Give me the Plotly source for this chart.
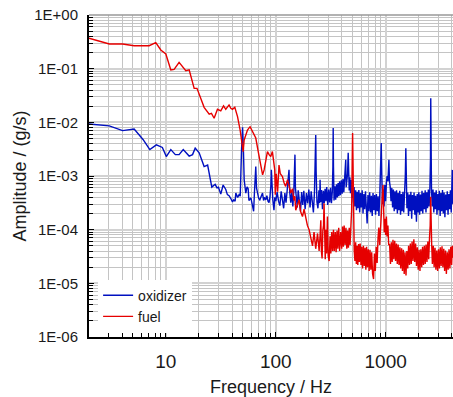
import math
import plotly.graph_objects as go

# ---------------- data ----------------
f_oxidizer = [2, 3.06, 4.04, 5.15, 6.2, 7.15, 8.2, 9.3, 10.1, 11.1, 12.2, 13.2, 14.4, 15.3, 16.3, 17.5, 18.5,
              20.1, 21.2, 22.3, 24.0, 25.2, 26.2, 28.1, 29.2, 30.1, 31.6, 33.2, 35.1, 36.3, 37.6, 39.0, 40.4,
              41.5, 42.7, 43.3, 45, 46.4, 47.5, 48.8, 49.9, 50.8, 51.6, 53.4, 54.8, 56.1, 57, 59.4, 61, 62.9,
              64, 65.8, 66.8, 68.4, 70, 71.6, 73.2, 75.8, 77.5, 79, 81.2, 83, 85, 86.8, 88.5, 90.2, 91.2, 92.5,
              94, 96.3, 98, 100, 103, 106, 109, 112, 115, 118, 121, 124, 127, 130, 132, 134, 137, 140, 143, 146,
              148, 149.5, 151, 154, 157, 160, 164, 168, 172, 176, 180, 185, 190, 195, 200, 205, 210, 215, 220,
              225, 229, 231, 233, 237, 242, 247, 251, 253, 256, 261, 266, 271, 276, 281, 286, 291, 297, 303,
              309, 315, 321, 327, 331, 333, 335, 339, 345, 351, 357, 363, 369, 375, 381, 388, 395, 402, 409,
              416, 423, 430, 433, 437, 444, 450, 456, 460, 466, 472, 478, 485, 492, 500, 508, 516, 524, 533,
              542, 551, 560, 570, 580, 590, 600, 611, 622, 633, 644, 655, 667, 678, 690, 702, 715, 728, 741,
              754, 767, 781, 795, 809, 823, 838, 853, 868, 884, 900, 911, 922, 935, 950, 966, 982, 998, 1015,
              1030, 1048, 1060, 1070, 1082, 1100, 1118, 1137, 1156, 1175, 1195, 1215, 1235, 1256, 1277, 1298,
              1320, 1342, 1365, 1388, 1411, 1435, 1459, 1483, 1508, 1525, 1540, 1560, 1586, 1613, 1640, 1667,
              1695, 1724, 1752, 1782, 1812, 1842, 1873, 1905, 1936, 1969, 2002, 2035, 2070, 2104, 2140, 2175,
              2212, 2249, 2287, 2325, 2364, 2403, 2443, 2484, 2525, 2555, 2570, 2585, 2610, 2650, 2695, 2740,
              2786, 2832, 2880, 2928, 2977, 3027, 3077, 3129, 3181, 3234, 3288, 3343, 3399, 3456, 3513, 3572,
              3632, 3692, 3754, 3817, 3880, 3945, 3990, 4020, 4036, 4060, 4096]
amp_oxidizer = [9.3e-3, 8.6e-3, 7.0e-3, 7.5e-3, 4.8e-3, 3.1e-3, 3.8e-3, 3.4e-3, 2.3e-3, 3.1e-3, 2.5e-3, 2.5e-3,
                3.1e-3, 2.7e-3, 2.35e-3, 2.5e-3, 3.3e-3, 2.7e-3, 2.0e-3, 1.5e-3, 1.6e-3, 9e-4, 6.2e-4, 7.0e-4,
                6.0e-4, 6.2e-4, 4.6e-4, 6.8e-4, 5.6e-4, 4.5e-4, 4.3e-4, 3.8e-4, 3.3e-4, 3.6e-4, 3.4e-4, 4.8e-4,
                4.0e-4, 4.5e-4, 4.2e-4, 3.0e-3, 8.1e-3, 3.0e-3, 8.5e-4, 4.8e-4, 6.3e-4, 5.8e-4, 3.5e-4, 3.9e-4,
                3.0e-4, 2.2e-4, 5e-4, 1.5e-3, 6e-4, 4.5e-4, 3.8e-4, 3.6e-4, 4.2e-4, 4.8e-4, 3.5e-4, 4.0e-4,
                3.6e-4, 4.3e-4, 3.4e-4, 3.2e-4, 4.0e-4, 6.5e-4, 1.3e-3, 5e-4, 3.6e-4, 2.3e-4, 4.0e-4, 3.4e-4,
                5.0e-4, 3.4e-4, 2.8e-4, 5.2e-4, 3.3e-4, 2.5e-4, 4.8e-4, 3.2e-4, 5.4e-4, 8e-4, 1.3e-3, 5e-4,
                3.2e-4, 5.0e-4, 2.7e-4, 5.3e-4, 1.0e-3, 2.5e-3, 6e-4, 3.4e-4, 2.6e-4, 5.4e-4, 3.2e-4, 2.2e-4,
                5.0e-4, 2.9e-4, 5.3e-4, 2.4e-4, 4.8e-4, 3.1e-4, 5.6e-4, 2.6e-4, 5.2e-4, 2.9e-4, 2.1e-4, 5.0e-4,
                1.5e-3, 5.8e-3, 1.2e-3, 3.3e-4, 2.5e-4, 5.4e-4, 3.1e-4, 8.5e-4, 3.3e-4, 5.5e-4, 2.4e-4, 5.3e-4,
                3.1e-4, 5.8e-4, 3.4e-4, 6.2e-4, 2.9e-4, 5.6e-4, 3.2e-4, 6.0e-4, 3.1e-4, 5.1e-4, 1.5e-3, 7.8e-3,
                1.5e-3, 3.5e-4, 6.4e-4, 3.6e-4, 7.0e-4, 4.0e-4, 7.4e-4, 4.2e-4, 8.0e-4, 4.4e-4, 8.3e-4, 4.7e-4,
                8.8e-4, 5.0e-4, 9.4e-4, 1.1e-3, 2.0e-3, 6.2e-4, 1.0e-3, 1.1e-3, 2.7e-3, 7.2e-4, 5.4e-4, 9.5e-4,
                4.8e-4, 8.4e-4, 3.9e-4, 7.4e-4, 3.2e-4, 6.2e-4, 2.7e-4, 5.4e-4, 2.3e-4, 5.1e-4, 2.5e-4, 5.5e-4,
                2.1e-4, 4.8e-4, 2.6e-4, 5.4e-4, 2.0e-4, 4.6e-4, 2.4e-4, 5.2e-4, 2.0e-4, 1.3e-4, 4.4e-4, 2.2e-4,
                5.0e-4, 2.1e-4, 4.3e-4, 1.8e-4, 4.8e-4, 2.3e-4, 4.4e-4, 1.9e-4, 4.6e-4, 2.2e-4, 4.2e-4, 1.8e-4,
                4.5e-4, 1.2e-3, 4.1e-3, 1.0e-3, 3.0e-4, 5.6e-4, 2.7e-4, 6.8e-4, 3.4e-4, 7.5e-4, 1.0e-3, 8e-4,
                1.2e-3, 2.0e-3, 8e-4, 6.2e-4, 3.4e-4, 6.0e-4, 2.6e-4, 5.6e-4, 2.2e-4, 5.2e-4, 2.4e-4, 5.4e-4,
                2.0e-4, 4.8e-4, 2.3e-4, 5.3e-4, 1.9e-4, 4.6e-4, 2.2e-4, 5.1e-4, 2.1e-4, 4.4e-4, 1.0e-3, 3.3e-3,
                8e-4, 2.5e-4, 4.9e-4, 1.8e-4, 4.5e-4, 2.2e-4, 5.1e-4, 1.6e-4, 4.4e-4, 2.3e-4, 4.9e-4, 1.9e-4,
                4.3e-4, 1.4e-4, 4.6e-4, 2.1e-4, 5.0e-4, 1.9e-4, 4.5e-4, 2.2e-4, 5.3e-4, 2.0e-4, 4.8e-4, 2.4e-4,
                5.4e-4, 2.1e-4, 5.0e-4, 2.5e-4, 5.6e-4, 2.7e-4, 6e-4, 2.0e-3, 2.8e-2, 2.0e-3, 5.8e-4, 2.7e-4,
                5.6e-4, 2.1e-4, 4.9e-4, 2.4e-4, 5.4e-4, 1.9e-4, 4.6e-4, 2.3e-4, 5.3e-4, 1.8e-4, 4.8e-4, 2.2e-4,
                5.5e-4, 2.0e-4, 4.9e-4, 1.7e-4, 4.5e-4, 2.3e-4, 5.2e-4, 1.9e-4, 4.6e-4, 2.4e-4, 5.4e-4, 2.1e-4,
                4.2e-4, 1.3e-3, 1.3e-3, 3.5e-4, 3.0e-4]

f_fuel = [2, 3.06, 4.04, 5.15, 7.05, 8.1, 9.0, 10, 11.1, 11.9, 13.2, 14.2, 15.2, 16.3, 18.1, 19.2, 20.1, 21.2,
          22.3, 24.8, 26, 27.5, 29.5, 31.6, 33.5, 35.1, 37.6, 39, 40.4, 42.4, 44.9, 47.4, 49, 50.5, 51.6, 55.3,
          58.4, 61.3, 65.8, 69.6, 73.2, 75.9, 78.4, 80.2, 84, 87, 90, 93.2, 95.5, 97.9, 99, 101, 104, 107, 110,
          115, 119, 123, 128, 132, 135, 137, 142, 146, 149, 152, 157, 163, 168, 175, 181, 188, 194, 201, 208,
          216, 223, 231, 240, 248, 253, 257, 260, 264, 268, 272, 275, 278, 282, 286, 290, 295, 300, 306, 312,
          317, 323, 329, 335, 341, 348, 354, 361, 367, 374, 381, 390, 398, 405, 412, 419, 427, 435, 443, 450,
          458, 466, 474, 482, 490, 496, 500, 504, 510, 517, 525, 533, 541, 549, 558, 567, 576, 586, 596, 606,
          616, 627, 638, 649, 660, 671, 683, 695, 707, 720, 733, 746, 760, 776, 790, 805, 820, 836, 852, 867,
          882, 898, 914, 930, 946, 956, 970, 985, 1000, 1015, 1030, 1048, 1065, 1085, 1105, 1125, 1145, 1165,
          1186, 1208, 1230, 1252, 1275, 1298, 1322, 1346, 1370, 1396, 1421, 1447, 1474, 1501, 1530, 1558,
          1587, 1616, 1646, 1676, 1707, 1739, 1771, 1804, 1837, 1871, 1906, 1941, 1977, 2013, 2050, 2088,
          2127, 2166, 2206, 2247, 2288, 2331, 2374, 2418, 2462, 2508, 2540, 2565, 2590, 2620, 2660, 2710,
          2760, 2810, 2862, 2915, 2969, 3024, 3080, 3137, 3195, 3254, 3314, 3375, 3438, 3501, 3566, 3632,
          3700, 3768, 3838, 3909, 3981, 4036, 4096]
amp_fuel = [0.37, 0.288, 0.288, 0.268, 0.268, 0.305, 0.223, 0.188, 0.095, 0.097, 0.131, 0.11, 0.092, 0.095,
            0.043, 0.043, 0.034, 0.025, 0.019, 0.0142, 0.0147, 0.0119, 0.0175, 0.0164, 0.0202, 0.0175, 0.0211,
            0.0183, 0.0175, 0.0191, 0.0128, 0.0072, 0.0042, 0.00285, 0.0047, 0.0072, 0.0083, 0.0067, 0.0051,
            0.0027, 0.0015, 0.00105, 0.0013, 0.0017, 0.00285, 0.0025, 0.0023, 0.00285, 0.0018, 0.0013, 4.5e-4,
            1.1e-3, 5.1e-4, 1.6e-3, 1.1e-3, 9.8e-4, 7.5e-4, 6.4e-4, 8.5e-4, 7.0e-4, 5.5e-4, 4.8e-4, 5.8e-4,
            3.5e-4, 4.2e-4, 2.3e-4, 3.0e-4, 3.6e-4, 2.2e-4, 1.75e-4, 2.4e-4, 1.5e-4, 1.2e-4, 1.0e-4, 7.5e-5,
            5.0e-5, 9.0e-5, 4.4e-5, 8.5e-5, 4.0e-5, 7.8e-5, 1.5e-4, 4.0e-5, 2.9e-5, 9.5e-5, 1.2e-4, 3.1e-4,
            5.0e-5, 2.8e-5, 1.0e-4, 3.6e-5, 1.75e-4, 3.2e-5, 2.6e-5, 7.5e-5, 3.6e-5, 9.0e-5, 4.0e-5, 1.0e-4,
            4.0e-5, 9.0e-5, 3.8e-5, 9.6e-5, 4.4e-5, 1.08e-4, 4.0e-5, 9.0e-5, 4.4e-5, 1.15e-4, 4.8e-5, 1.2e-4,
            5.2e-5, 1.08e-4, 4.4e-5, 9.6e-5, 4.6e-5, 1.08e-4, 5.2e-5, 1.3e-4, 2.3e-4, 2.0e-3, 6.3e-3, 2.0e-3,
            2.3e-4, 4.2e-5, 2.6e-5, 5.8e-5, 2.3e-5, 5.0e-5, 2.2e-5, 5.4e-5, 2.5e-5, 5.5e-5, 2.2e-5, 4.8e-5,
            1.9e-5, 5.0e-5, 2.1e-5, 4.6e-5, 1.8e-5, 4.8e-5, 2.0e-5, 4.3e-5, 1.7e-5, 4.2e-5, 1.8e-5, 3.8e-5,
            1.5e-5, 1.2e-5, 3.6e-5, 1.7e-5, 4.8e-5, 2.4e-5, 7.0e-5, 1.1e-4, 5.2e-5, 1.3e-4, 2.0e-4, 4.0e-4,
            6.8e-4, 2.5e-4, 9.0e-5, 1.6e-4, 8.0e-5, 1.75e-4, 7.5e-5, 1.2e-4, 5.2e-5, 5.4e-5, 2.3e-5, 5.8e-5,
            2.5e-5, 6.5e-5, 2.8e-5, 6.2e-5, 2.6e-5, 5.5e-5, 2.3e-5, 5.3e-5, 2.2e-5, 4.7e-5, 1.9e-5, 4.5e-5,
            1.7e-5, 4.2e-5, 1.5e-5, 3.8e-5, 1.4e-5, 4.0e-5, 1.9e-5, 5.0e-5, 2.2e-5, 5.5e-5, 2.3e-5, 6.0e-5,
            2.6e-5, 6.6e-5, 2.5e-5, 5.5e-5, 2.1e-5, 4.7e-5, 1.8e-5, 4.2e-5, 1.7e-5, 4.3e-5, 2.0e-5, 4.8e-5,
            2.2e-5, 5.0e-5, 2.3e-5, 5.3e-5, 2.5e-5, 6.0e-5, 2.8e-5, 7.5e-5, 1.2e-4, 4.1e-4, 1.0e-4, 5.4e-5,
            2.3e-5, 5.0e-5, 2.0e-5, 4.6e-5, 1.8e-5, 4.1e-5, 1.7e-5, 4.3e-5, 1.9e-5, 4.7e-5, 2.1e-5, 4.9e-5,
            2.0e-5, 4.4e-5, 1.7e-5, 4.1e-5, 1.5e-5, 3.8e-5, 1.8e-5, 4.3e-5, 1.9e-5, 4.8e-5, 2.2e-5, 5.0e-5,
            3.0e-5]

x_ticks = [10, 100, 1000]
x_ticktext = ["10", "100", "1000"]
y_ticks = [1e-6, 1e-5, 1e-4, 1e-3, 1e-2, 1e-1, 1e0]
y_ticktext = ["1E-06", "1E-05", "1E-04", "1E-03", "1E-02", "1E-01", "1E+00"]
x_range = [2, 4096]
y_range = [1e-6, 1e0]

FONT = "Liberation Sans, Arial, sans-serif"

x_minor = [m * 10 ** d for d in range(0, 4) for m in range(2, 10) if x_range[0] <= m * 10 ** d <= x_range[1]]
y_minor = [m * 10.0 ** d for d in range(-6, 0) for m in range(2, 10)]

fig = go.Figure()
fig.add_trace(go.Scatter(x=f_oxidizer, y=amp_oxidizer, mode="lines", name="oxidizer",
                         line=dict(color="#0010c0", width=1.4)))
fig.add_trace(go.Scatter(x=f_fuel, y=amp_fuel, mode="lines", name="fuel",
                         line=dict(color="#e60000", width=1.4)))

fig.update_layout(
    width=453, height=397,
    margin=dict(l=89, r=0, t=15, b=60),
    plot_bgcolor="white", paper_bgcolor="white",
    font=dict(family=FONT, color="#1a1a1a"),
    showlegend=True,
    legend=dict(x=0.025, y=0.096, xanchor="left", yanchor="middle",
                bgcolor="white", borderwidth=0, font=dict(size=14, family=FONT, color="#1a1a1a"),
                itemwidth=30, tracegroupgap=0),
    xaxis=dict(
        type="log", range=[math.log10(x_range[0]), math.log10(x_range[1])],
        tickmode="array", tickvals=x_ticks, ticktext=x_ticktext,
        tickfont=dict(size=19), ticks="inside", ticklen=5, tickcolor="black", tickwidth=1,
        ticklabelstandoff=6,
        showline=True, linecolor="black", linewidth=2,
        showgrid=True, gridcolor="#d2d2d2", gridwidth=2,
        minor=dict(tickmode="array", tickvals=x_minor, ticks="inside", ticklen=4, tickcolor="black",
                   showgrid=True, gridcolor="#c4c4c4", gridwidth=1),
        title=dict(text="Frequency / Hz", font=dict(size=18), standoff=10),
        zeroline=False,
    ),
    yaxis=dict(
        type="log", range=[math.log10(y_range[0]), math.log10(y_range[1])],
        tickmode="array", tickvals=y_ticks, ticktext=y_ticktext,
        tickfont=dict(size=15), ticks="inside", ticklen=5, tickcolor="black", tickwidth=1,
        ticklabelstandoff=6,
        showline=True, linecolor="black", linewidth=2,
        showgrid=True, gridcolor="#d2d2d2", gridwidth=2,
        minor=dict(tickmode="array", tickvals=y_minor, ticks="inside", ticklen=4, tickcolor="black",
                   showgrid=True, gridcolor="#c4c4c4", gridwidth=1),
        title=dict(text="Amplitude / (g/s)", font=dict(size=18), standoff=3),
        zeroline=False,
    ),
    shapes=[dict(type="line", xref="paper", yref="paper", x0=0, x1=1, y0=1, y1=1,
                 line=dict(color="#999999", width=1.5))],
)

fig.write_html("out.html")
